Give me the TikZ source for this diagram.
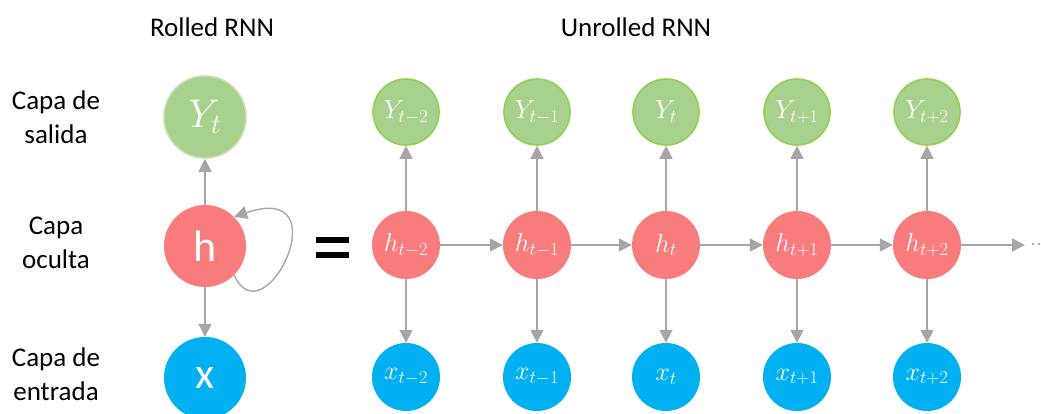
\RequirePackage{fix-cm}
\documentclass[tikz,border=0pt]{standalone}
\usepackage{fontspec}
\setmainfont{Carlito}
\usetikzlibrary{arrows.meta}
\definecolor{gfill}{HTML}{A9D18E}
\definecolor{gline}{HTML}{92D050}
\definecolor{glight}{HTML}{C5E0B4}
\definecolor{rfill}{HTML}{F87C7C}
\definecolor{bfill}{HTML}{00B0F0}
\definecolor{agray}{HTML}{A6A6A6}
\tikzset{
  lbl/.style={font=\fontsize{27}{34}\selectfont, align=center, text=black},
  ynode/.style={circle, fill=gfill, draw=gline, line width=1.6pt, minimum size=66pt, inner sep=0pt, text=white, font=\fontsize{26}{30}\selectfont},
  hnode/.style={circle, fill=rfill, minimum size=68pt, inner sep=0pt, text=white, font=\fontsize{26}{30}\selectfont},
  xnode/.style={circle, fill=bfill, minimum size=68pt, inner sep=0pt, text=white, font=\fontsize{26}{30}\selectfont},
  big/.style={minimum size=82pt},
  arr/.style={draw=agray, line width=1.4pt, -{Triangle[length=13pt,width=13pt]}, color=agray},
}
\begin{document}
\begin{tikzpicture}[x=1pt,y=-1pt]
\useasboundingbox (0,0) rectangle (1041,413);
% titles
\node[lbl] (t1) at (212,27) {Rolled RNN};
\node[lbl] (t2) at (636,27) {Unrolled RNN};
% row labels
\node[lbl] (l1) at (56,117) {Capa de\\salida};
\node[lbl] (l2) at (56,243) {Capa\\oculta};
\node[lbl] (l3) at (56,374) {Capa de\\entrada};
% rolled
\node[ynode, big, draw=glight, font=\fontsize{40}{44}\selectfont] (Y) at (205,117) {$Y_t$};
\node[hnode, big, font=\fontsize{44}{48}\selectfont] (H) at (205,246) {h};
\node[xnode, big, font=\fontsize{44}{48}\selectfont] (X) at (205,378) {x};
\draw[arr] (H.north) -- (Y.south);
\draw[arr] (H.south) -- (X.north);
\draw[arr] (H.-45) .. controls +(30,66) and +(108,-37) .. (H.45);
% equals sign
\fill[black] (316,237) rectangle (349,243);
\fill[black] (316,252) rectangle (349,258);
% unrolled
\foreach \i/\x/\s in {1/406/{t-2},2/537/{t-1},3/666/{t},4/797/{t+1},5/927/{t+2}}{
  \node[ynode] (y\i) at (\x,112) {$Y_{\s}$};
  \node[hnode] (h\i) at (\x,245) {$h_{\s}$};
  \node[xnode] (x\i) at (\x,377) {$x_{\s}$};
  \draw[arr] (h\i.north) -- (y\i.south);
  \draw[arr] (h\i.south) -- (x\i.north);
}
\foreach \i/\j in {1/2,2/3,3/4,4/5}{
  \draw[arr] (h\i.east) -- (h\j.west);
}
\coordinate (end) at (1025,245);
\draw[arr] (h5.east) -- (end);
\node[circle, fill=agray, inner sep=0pt, minimum size=2.6pt] (d1) at (1033,244) {};
\node[circle, fill=agray, inner sep=0pt, minimum size=2.6pt] (d2) at (1039,244) {};
\end{tikzpicture}
\end{document}
